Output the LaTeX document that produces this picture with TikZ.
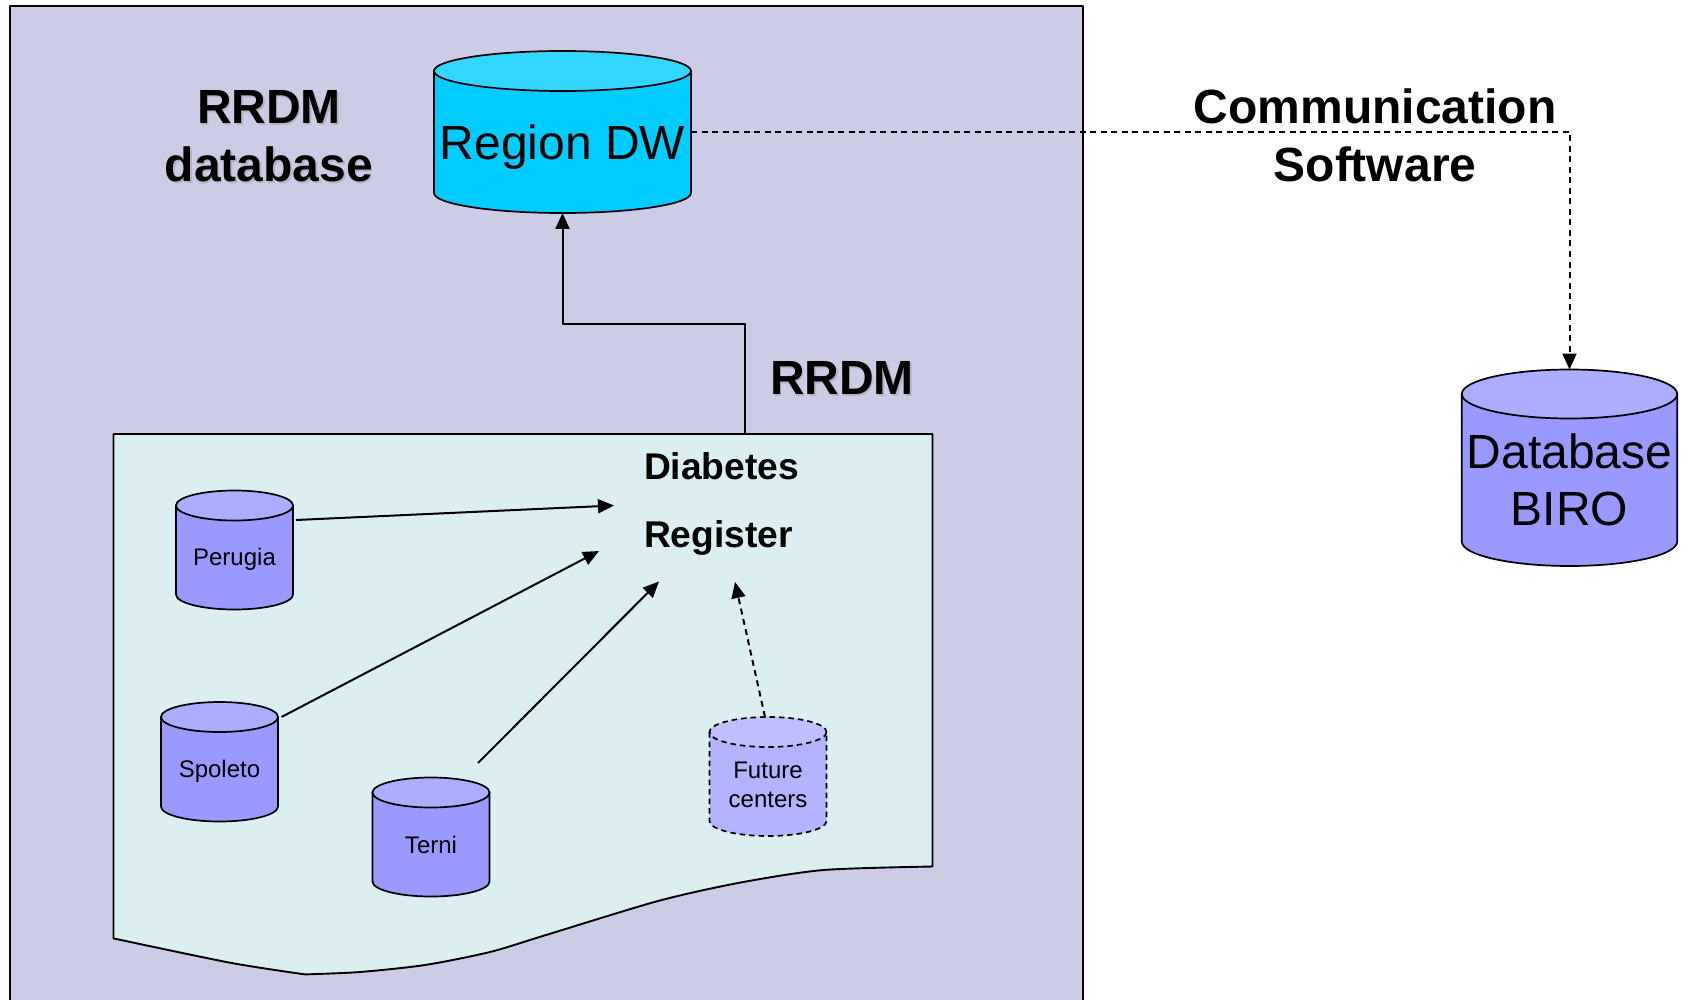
\documentclass[tikz,border=0pt]{standalone}
\usepackage{fontspec}
\setmainfont{Liberation Sans}
\usetikzlibrary{arrows.meta}
\definecolor{framefill}{HTML}{CCCCE6}
\definecolor{panelfill}{HTML}{DCEFF0}
\definecolor{cyanbody}{HTML}{00CCFF}
\definecolor{cyantop}{HTML}{33D6FF}
\definecolor{bluebody}{HTML}{9999FF}
\definecolor{bluetop}{HTML}{ADADFF}
\definecolor{futurebody}{HTML}{B3B3FF}
\definecolor{futuretop}{HTML}{BFBFFF}
\definecolor{softshadow}{HTML}{B4B4C6}
\newcommand{\dbcyl}[9]{% style, name, cx, top, rx, ry, bottom, body, lid
  \pgfmathsetmacro{\cL}{#3-#5}\pgfmathsetmacro{\cR}{#3+#5}
  \pgfmathsetmacro{\cT}{#4+#6}\pgfmathsetmacro{\cB}{#7-#6}
  \pgfmathsetmacro{\kx}{0.5523*#5}\pgfmathsetmacro{\ky}{0.5523*#6}
  \pgfmathsetmacro{\cM}{(#4+#7)/2}
  \pgfmathsetmacro{\cW}{2*#5}\pgfmathsetmacro{\cH}{#7-#4}
  \draw[#1,fill=#8] (\cL,\cT) -- (\cL,\cB)
    .. controls (\cL,\cB+\ky) and (#3-\kx,#7) .. (#3,#7)
    .. controls (#3+\kx,#7) and (\cR,\cB+\ky) .. (\cR,\cB)
    -- (\cR,\cT) -- cycle;
  \draw[#1,fill=#9] (#3,\cT) ellipse [x radius=#5,y radius=#6];
  \node[inner sep=0pt,outer sep=0pt,minimum width=\cW pt,minimum height=\cH pt] (#2) at (#3,\cM) {};
}
\newcommand{\shadowtext}[1]{\leavevmode\rlap{\kern1.6pt\raisebox{-1.6pt}{\textcolor{softshadow}{#1}}}#1}
\tikzset{
  outline/.style={draw=black,line width=1.9pt,line join=round},
  dbsolid/.style={draw=black,line width=1.7pt},
  dbdash/.style={draw=black,line width=1.7pt,dash pattern=on 5.5pt off 4pt},
  link/.style={draw=black,line width=2pt,-{Triangle[length=16pt,width=14pt]}},
  dashlink/.style={link,dash pattern=on 6pt off 4.5pt},
  bigbold/.style={anchor=base,font=\fontsize{48}{57}\selectfont\bfseries},
  bigplain/.style={anchor=base,font=\fontsize{48}{57}\selectfont},
  midbold/.style={anchor=base west,font=\fontsize{37.2}{44}\selectfont\bfseries},
  small/.style={anchor=base,font=\fontsize{24}{29}\selectfont},
}
\begin{document}
\begin{tikzpicture}[x=1pt,y=-1pt]
\useasboundingbox (0,0) rectangle (1688,1000);
\fill[white] (0,0) rectangle (1688,1000);
% frame
\draw[outline,fill=framefill] (10,6) rectangle (1083,1020);
% register panel
\draw[outline,fill=panelfill] (113.5,434) -- (932.5,434) -- (932.5,866.5)
  -- plot[smooth,tension=0.45] coordinates {(932.5,866.5) (823.6,870) (739.6,882.7) (658,901) (544.4,935.5) (490,952) (425,965) (360,972) (305,974.4)}
  -- plot[smooth,tension=0.45] coordinates {(305,974.4) (230,962.7) (113.5,938.4)}
  -- cycle;
% cylinders
\dbcyl{dbsolid}{dw}{562.5}{51}{128.5}{20}{213}{cyanbody}{cyantop}
\dbcyl{dbsolid}{biro}{1569.5}{369.5}{107.7}{24.5}{566}{bluebody}{bluetop}
\dbcyl{dbsolid}{perugia}{234.5}{490.5}{58.5}{15}{609.5}{bluebody}{bluetop}
\dbcyl{dbsolid}{spoleto}{219.5}{702}{58.5}{15}{821.5}{bluebody}{bluetop}
\dbcyl{dbsolid}{terni}{431}{777.5}{58.5}{15}{896.5}{bluebody}{bluetop}
\dbcyl{dbdash}{future}{768}{717}{58.5}{15}{836}{futurebody}{futuretop}
% free connector ends
\coordinate (regtop) at (745,434);
\coordinate (regbend) at (745,323.5);
\coordinate (pstart) at (296,520);
\coordinate (pend) at (614,505.5);
\coordinate (sstart) at (281.5,717);
\coordinate (send) at (599,551);
\coordinate (tstart) at (478,763);
\coordinate (tend) at (659,581.5);
\coordinate (fstart) at (765,717);
\coordinate (fend) at (735,582);
% connectors
\draw[link] (regtop) -- (regbend) -| (dw.south);
\draw[dashlink] (dw.east) -| (biro.north);
\draw[link] (pstart) -- (pend);
\draw[link] (sstart) -- (send);
\draw[link] (tstart) -- (tend);
\draw[dashlink] (fstart) -- (fend);
% labels
\node[bigbold] (t1) at (269,123.5) {\shadowtext{RRDM}};
\node[bigbold] (t2) at (269,182) {\shadowtext{database}};
\node[bigbold] (t3) at (842,394.5) {\shadowtext{RRDM}};
\node[bigbold] (t4) at (1375,124) {Communication};
\node[bigbold] (t5) at (1375,182) {Software};
\node[bigplain] (t6) at (562.5,159.5) {Region DW};
\node[bigplain] (t7) at (1569.5,468) {Database};
\node[bigplain] (t8) at (1569.5,525.5) {BIRO};
\node[midbold] (t9) at (640.5,479.5) {Diabetes};
\node[midbold] (t10) at (640.5,547) {Register};
\node[small] (t11) at (234.5,565.5) {Perugia};
\node[small] (t12) at (219.5,777) {Spoleto};
\node[small] (t13) at (431,853) {Terni};
\node[small] (t14) at (768,778) {Future};
\node[small] (t15) at (768,807) {centers};
\end{tikzpicture}
\end{document}
